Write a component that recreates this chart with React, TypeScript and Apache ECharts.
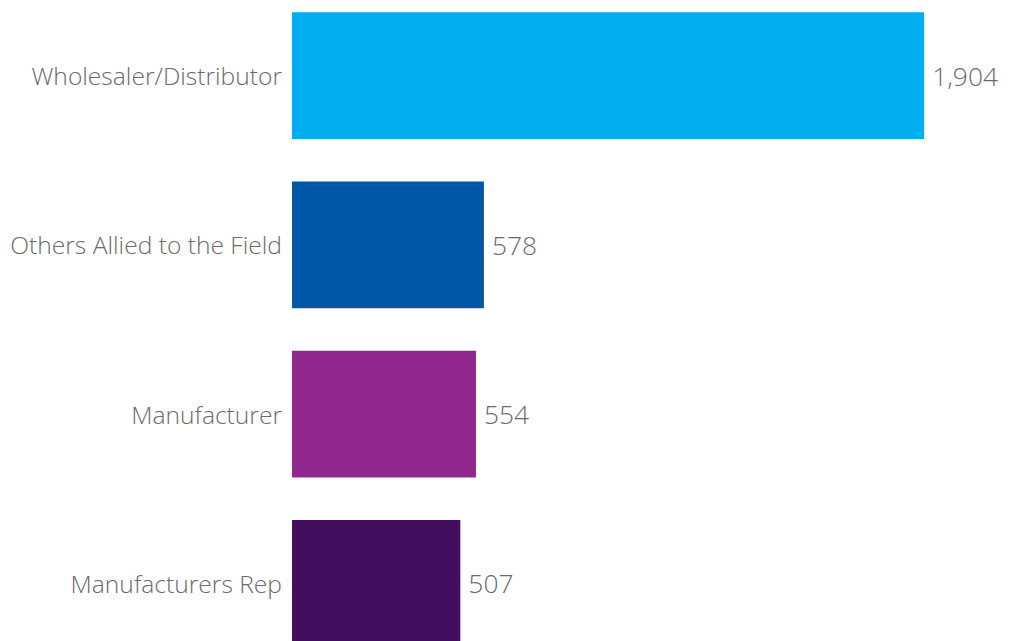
import React, { useEffect, useRef } from "react";
import * as echarts from "echarts";

const categories = ["Wholesaler/Distributor", "Others Allied to the Field", "Manufacturer", "Manufacturers Rep"];
const values = [1904, 578, 554, 507];
const colors = ["#00AEEF", "#0057A8", "#91278F", "#440E5E"];

export default function App() {
  const ref = useRef<HTMLDivElement>(null);
  useEffect(() => {
    const chart = echarts.init(ref.current!, null, { renderer: "svg" });
    chart.setOption({
      animation: false,
      grid: { left: 292, right: 61, top: 0, bottom: 0, containLabel: false },
      xAxis: { type: "value", min: 0, max: 2000, show: false },
      yAxis: {
        type: "category",
        data: categories,
        inverse: true,
        axisLine: { show: false },
        axisTick: { show: false },
        splitLine: { show: false },
        axisLabel: { color: "#6b6b6b", fontSize: 24.6, fontFamily: "Open Sans", fontWeight: 300, margin: 10 },
      },
      series: [
        {
          type: "bar",
          data: values.map((v, i) => ({ value: v, itemStyle: { color: colors[i] } })),
          barCategoryGap: "25%",
          label: {
            show: true,
            position: "right",
            distance: 8,
            color: "#6b6b6b",
            fontSize: 26.4,
            fontFamily: "Open Sans",
            fontWeight: 300,
            formatter: (p: any) => p.value.toLocaleString("en-US"),
          },
        },
      ],
    });
    return () => chart.dispose();
  }, []);
  return (
    <div style={{ position: "fixed", left: 0, top: 0, width: 1017, height: 641, overflow: "hidden", background: "#fff" }}>
      <div ref={ref} style={{ position: "absolute", left: 0, top: -9, width: 1017, height: 677 }} />
    </div>
  );
}
